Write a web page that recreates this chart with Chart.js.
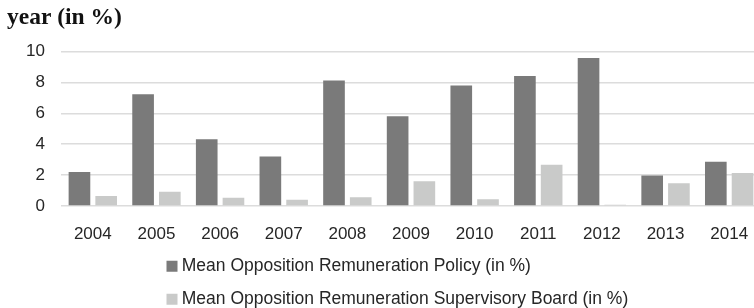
<!DOCTYPE html>
<html>
<head>
<meta charset="utf-8">
<script src="https://cdn.jsdelivr.net/npm/chart.js@4.4.1/dist/chart.umd.min.js"></script>
<style>
  html, body { margin: 0; padding: 0; background: #fff; overflow: hidden; }
  #wrap { width: 754px; height: 308px; overflow: hidden; }
</style>
</head>
<body>
<div id="wrap"><canvas id="mycanvas" width="761" height="318"></canvas></div>
<script>
var years = ['2004', '2005', '2006', '2007', '2008', '2009', '2010', '2011', '2012', '2013', '2014'];
var policy = [2.21, 7.23, 4.32, 3.2, 8.13, 5.82, 7.8, 8.42, 9.59, 1.98, 2.86];
var board = [0.65, 0.92, 0.54, 0.41, 0.56, 1.61, 0.43, 2.67, 0.08, 1.48, 2.13];
var yTicks = [0, 2, 4, 6, 8, 10];

var policyLabel = 'Mean Opposition Remuneration Policy (in %)';
var boardLabel = 'Mean Opposition Remuneration Supervisory Board (in %)';

// legend block sits under the middle of the plot, rows left-aligned
var legendShift = {
    id: 'legendShift',
    afterLayout: function (chart) {
        chart.legend.left += 148.5;
        chart.legend.right += 148.5;
    }
};

var chartdata = {
    labels: years,
    datasets: [
        {
            label: policyLabel,
            backgroundColor: '#7a7a7a',
            borderWidth: 0,
            data: policy
        },
        {
            label: boardLabel,
            backgroundColor: '#c9cac9',
            borderWidth: 0,
            data: board
        }
    ]
};

var ctx = document.getElementById('mycanvas');

var barGraph = new Chart(ctx, {
    type: 'bar',
    data: chartdata,
    plugins: [legendShift],
    options: {
        responsive: false,
        animation: false,
        devicePixelRatio: 1,
        layout: { padding: { left: 7, right: 0, top: 0, bottom: 0 } },
        datasets: {
            bar: { categoryPercentage: 0.84, barPercentage: 0.81 }
        },
        scales: {
            x: {
                grid: { display: false },
                border: { display: false },
                ticks: {
                    color: '#262626',
                    padding: 10.5,
                    font: { family: 'Liberation Sans', size: 17 }
                },
                afterFit: function (scale) { scale.height = 36; }
            },
            y: {
                min: 0,
                max: 10,
                grid: { color: '#dcdcdc', lineWidth: 1.5, drawTicks: false },
                border: { display: false },
                afterBuildTicks: function (scale) {
                    scale.ticks = yTicks.map(function (v) { return { value: v }; });
                },
                ticks: {
                    color: '#262626',
                    padding: 16,
                    font: { family: 'Liberation Sans', size: 17 }
                },
                afterFit: function (scale) { scale.width = 54; }
            }
        },
        plugins: {
            title: {
                display: true,
                text: 'year (in %)',
                align: 'start',
                color: '#111',
                font: { family: 'Liberation Serif', size: 23.5, weight: 'bold' },
                padding: { top: 4, bottom: 19.4 }
            },
            legend: {
                position: 'bottom',
                align: 'start',
                labels: {
                    color: '#262626',
                    font: { family: 'Liberation Sans', size: 17.5 },
                    boxWidth: 2,
                    boxHeight: 2,
                    padding: 15.5,
                    generateLabels: function (chart) {
                        var items = Chart.defaults.plugins.legend.labels.generateLabels(chart);
                        items.forEach(function (it) {
                            it.strokeStyle = it.fillStyle;
                            it.lineWidth = 9;
                        });
                        return items;
                    }
                }
            },
            tooltip: { enabled: false }
        }
    }
});
</script>
</body>
</html>
